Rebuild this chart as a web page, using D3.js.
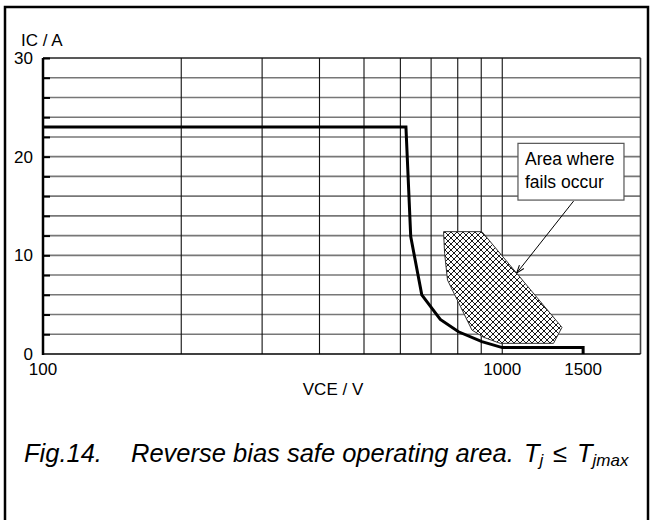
<!DOCTYPE html>
<html>
<head>
<meta charset="utf-8">
<script src="https://cdn.jsdelivr.net/npm/d3@7"></script>
<style>
  body { margin: 0; background: #fff; }
  svg { display: block; font-family: "Liberation Sans", Arial, sans-serif; }
</style>
</head>
<body>
<svg width="651" height="520"></svg>
<script>
// chart values
var vceGrid = [200, 300, 400, 500, 600, 700, 800, 900, 1000];
var icGrid = [2, 4, 6, 8, 10, 12, 14, 16, 18, 20, 22, 24, 26, 28, 30];
var icLabels = [0, 10, 20, 30];
var vceLabels = [100, 1000, 1500];

// RBSOA limit curve
var rbsoaV = [100, 617, 632, 668, 733, 803, 903, 1000, 1500, 1500];
var rbsoaI = [23, 23, 11.9, 6, 3.5, 2.25, 1.25, 0.65, 0.65, 0];

// hatched "fails occur" region
var failV = [745, 903, 1349, 1293, 990, 910, 859, 760, 749];
var failI = [12.4, 12.4, 2.7, 1.08, 1.08, 1.7, 2.43, 7.5, 10.2];

// annotation box corners and arrow (data coords)
var noteV = [1082, 1841];
var noteI = [21.35, 15.6];
var arrowV = [1430, 1075];
var arrowI = [15.5, 8.2];

var svg = d3.select("svg");

var margin = { top: 58, right: 10, bottom: 166, left: 43 };
var width = 651 - margin.left - margin.right,
    height = 520 - margin.top - margin.bottom;

var x = d3.scaleLog().domain([100, 2000]).range([0, width - 0.5]),
    y = d3.scaleLinear().domain([0, 30]).range([height, 0]);

// outer frame
svg.append("rect")
    .attr("x", 5).attr("y", 7)
    .attr("width", 643).attr("height", 540)
    .attr("fill", "none")
    .attr("stroke", "#000")
    .attr("stroke-width", 2.5);

var defs = svg.append("defs");
var hs = 6;
var pat = defs.append("pattern")
    .attr("id", "xhatch")
    .attr("patternUnits", "userSpaceOnUse")
    .attr("width", hs).attr("height", hs);
pat.append("rect").attr("width", hs).attr("height", hs).attr("fill", "#fff");
pat.append("path")
    .attr("d", "M0,0L" + hs + "," + hs + "M" + hs + ",0L0," + hs +
        "M-1," + (hs - 1) + "L1," + (hs + 1) + "M" + (hs - 1) + ",-1L" + (hs + 1) + ",1" +
        "M-1,1L1,-1M" + (hs - 1) + "," + (hs + 1) + "L" + (hs + 1) + "," + (hs - 1))
    .attr("stroke", "#000")
    .attr("stroke-width", 0.9);

defs.append("marker")
    .attr("id", "arrow")
    .attr("viewBox", "0 0 10 10")
    .attr("refX", 10).attr("refY", 5)
    .attr("markerWidth", 8).attr("markerHeight", 8)
    .attr("orient", "auto")
    .append("path")
    .attr("d", "M0,1.5L10,5L0,8.5")
    .attr("fill", "none")
    .attr("stroke", "#000")
    .attr("stroke-width", 1.3);

var g = svg.append("g")
    .attr("transform", "translate(" + margin.left + "," + margin.top + ")");

// horizontal grid
g.selectAll(".hgrid")
  .data(icGrid)
  .enter().append("line")
    .attr("class", "hgrid")
    .attr("x1", 0).attr("x2", x(2000))
    .attr("y1", function (d) { return y(d); })
    .attr("y2", function (d) { return y(d); })
    .attr("stroke", d => d == 30 ? "#222" : "#777")
    .attr("stroke-width", 1.6);

// vertical grid
g.selectAll(".vgrid")
  .data(vceGrid)
  .enter().append("line")
    .attr("class", "vgrid")
    .attr("x1", d => x(d)).attr("x2", d => x(d))
    .attr("y1", 0).attr("y2", height)
    .attr("stroke", "#111")
    .attr("stroke-width", 1.1);

g.append("line")
    .attr("x1", x(2000)).attr("x2", x(2000))
    .attr("y1", 0).attr("y2", height)
    .attr("stroke", "#444")
    .attr("stroke-width", 1.6);

// axes: inward ticks on the left, plain line at the bottom
g.append("g")
    .attr("class", "axis axis--y")
    .call(d3.axisRight(y).tickValues(icGrid).tickSize(7).tickFormat(""))
    .call(s => s.select(".domain").remove())
    .selectAll("line").attr("stroke-width", 2);

g.append("line")
    .attr("x1", 0).attr("x2", 0)
    .attr("y1", 0).attr("y2", height + 1)
    .attr("stroke", "#000").attr("stroke-width", 2.5);

g.append("line")
    .attr("x1", 0).attr("x2", x(2000))
    .attr("y1", height).attr("y2", height)
    .attr("stroke", "#000").attr("stroke-width", 1.6);

// tick labels
g.selectAll(".ylab")
  .data(icLabels)
  .enter().append("text")
    .attr("class", "ylab")
    .attr("x", -10)
    .attr("y", d => y(d))
    .attr("dy", "0.36em")
    .attr("text-anchor", "end")
    .attr("font-size", 17)
    .text(d => d);

g.selectAll(".xlab")
  .data(vceLabels)
  .enter().append("text")
    .attr("class", "xlab")
    .attr("x", d => x(d))
    .attr("y", height + 21)
    .attr("text-anchor", "middle")
    .attr("font-size", 17)
    .text(d => d);

svg.append("text")
    .attr("x", 21).attr("y", 46)
    .attr("font-size", 17)
    .text("IC / A");

svg.append("text")
    .attr("x", 333).attr("y", 395)
    .attr("text-anchor", "middle")
    .attr("font-size", 17)
    .text("VCE / V");

// fail region
var failPts = failV.map((v, i) => [x(v), y(failI[i])]);
g.append("path")
    .attr("d", "M" + failPts.join("L") + "Z")
    .attr("fill", "url(#xhatch)")
    .attr("stroke", "#333")
    .attr("stroke-width", 1);

// RBSOA curve
var line = d3.line()
    .x(d => x(d[0]))
    .y(d => y(d[1]));
g.append("path")
    .datum(rbsoaV.map((v, i) => [v, rbsoaI[i]]))
    .attr("d", line)
    .attr("fill", "none")
    .attr("stroke", "#000")
    .attr("stroke-width", 3)
    .attr("stroke-linejoin", "miter");

// annotation
g.append("rect")
    .attr("x", x(noteV[0]))
    .attr("y", y(noteI[0]))
    .attr("width", x(noteV[1]) - x(noteV[0]))
    .attr("height", y(noteI[1]) - y(noteI[0]))
    .attr("fill", "#fff")
    .attr("stroke", "#555")
    .attr("stroke-width", 1.2);

var note = g.append("text")
    .attr("font-size", 17.5);
note.append("tspan")
    .attr("x", x(noteV[0]) + 7).attr("y", y(noteI[0]) + 22)
    .text("Area where");
note.append("tspan")
    .attr("x", x(noteV[0]) + 7).attr("y", y(noteI[0]) + 45)
    .text("fails occur");

g.append("line")
    .attr("x1", x(arrowV[0])).attr("y1", y(arrowI[0]))
    .attr("x2", x(arrowV[1])).attr("y2", y(arrowI[1]))
    .attr("stroke", "#000")
    .attr("stroke-width", 1)
    .attr("marker-end", "url(#arrow)");

// caption
var cap = svg.append("text")
    .attr("y", 462)
    .attr("font-size", 25.5)
    .attr("font-style", "italic");
cap.append("tspan").attr("x", 24).text("Fig.14.");
cap.append("tspan").attr("x", 131).text("Reverse bias safe operating area.");
cap.append("tspan").attr("x", 524).text("T");
cap.append("tspan").attr("font-size", 17).attr("dy", 4).text("j");
cap.append("tspan").attr("x", 553).attr("dy", -4).text("\u2264");
cap.append("tspan").attr("x", 577).text("T");
cap.append("tspan").attr("font-size", 17).attr("dy", 4).text("jmax");
</script>
</body>
</html>
